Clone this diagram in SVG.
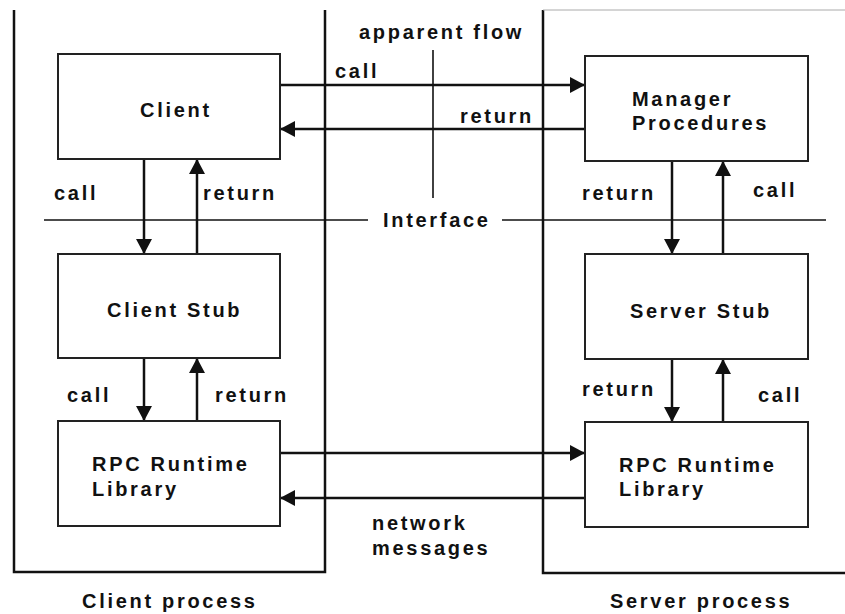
<svg xmlns="http://www.w3.org/2000/svg" width="845" height="614" viewBox="0 0 845 614">
<style>
text{font-family:"Liberation Sans",Arial,sans-serif;font-weight:bold;font-size:20px;letter-spacing:2.7px;fill:#111}
.box{fill:#fff;stroke:#222;stroke-width:2}
.frame{fill:none;stroke:#111;stroke-width:2.5}
.thin{fill:none;stroke:#111;stroke-width:1.6}
.arr{fill:none;stroke:#111;stroke-width:2.5;marker-end:url(#ah)}
</style>
<defs>
<marker id="ah" markerUnits="userSpaceOnUse" markerWidth="15" markerHeight="16" refX="15" refY="8" orient="auto">
<path d="M0,0 L15,8 L0,16 z" fill="#111"/>
</marker>
</defs>
<rect width="845" height="614" fill="#fff"/>
<g id="client-process">
<path class="frame" d="M14,10 V572 H325 V10"/>
<text x="82" y="608">Client process</text>
</g>
<g id="server-process">
<path class="frame" d="M543,10 V573 H845"/>
<line x1="543" y1="10" x2="845" y2="10" stroke="#aaa" stroke-width="1"/>
<text x="610" y="608">Server process</text>
</g>
<g id="interface">
<line class="thin" x1="44" y1="220" x2="368" y2="220"/>
<line class="thin" x1="502" y1="220" x2="826" y2="220"/>
<text x="383" y="227">Interface</text>
</g>
<g id="apparent-flow">
<text x="359" y="39">apparent flow</text>
<line class="thin" x1="433" y1="50" x2="433" y2="198"/>
</g>
<g id="connectors">
<line class="arr" x1="280" y1="85" x2="585" y2="85"/>
<line class="arr" x1="585" y1="129" x2="280" y2="129"/>
<line class="arr" x1="144" y1="159" x2="144" y2="254"/>
<line class="arr" x1="197" y1="254" x2="197" y2="159"/>
<line class="arr" x1="144" y1="358" x2="144" y2="421"/>
<line class="arr" x1="197" y1="421" x2="197" y2="358"/>
<line class="arr" x1="672" y1="161" x2="672" y2="254"/>
<line class="arr" x1="723" y1="254" x2="723" y2="161"/>
<line class="arr" x1="672" y1="359" x2="672" y2="422"/>
<line class="arr" x1="723" y1="422" x2="723" y2="359"/>
<line class="arr" x1="280" y1="453" x2="585" y2="453"/>
<line class="arr" x1="585" y1="498" x2="280" y2="498"/>
<text x="335" y="78">call</text>
<text x="460" y="123">return</text>
<text x="54" y="200">call</text>
<text x="203" y="200">return</text>
<text x="582" y="200">return</text>
<text x="753" y="197">call</text>
<text x="67" y="402">call</text>
<text x="215" y="402">return</text>
<text x="582" y="396">return</text>
<text x="758" y="402">call</text>
<text x="372" y="530">network</text>
<text x="372" y="555">messages</text>
</g>
<g id="client">
<rect class="box" x="58" y="54" width="222" height="105"/>
<text x="140" y="117">Client</text>
</g>
<g id="manager-procedures">
<rect class="box" x="585" y="56" width="223" height="105"/>
<text x="632" y="106">Manager</text>
<text x="632" y="130">Procedures</text>
</g>
<g id="client-stub">
<rect class="box" x="58" y="254" width="222" height="104"/>
<text x="107" y="317">Client Stub</text>
</g>
<g id="server-stub">
<rect class="box" x="585" y="254" width="223" height="105"/>
<text x="630" y="318">Server Stub</text>
</g>
<g id="client-rpc">
<rect class="box" x="58" y="421" width="222" height="105"/>
<text x="92" y="471">RPC Runtime</text>
<text x="92" y="496">Library</text>
</g>
<g id="server-rpc">
<rect class="box" x="585" y="422" width="223" height="105"/>
<text x="619" y="472">RPC Runtime</text>
<text x="619" y="496">Library</text>
</g>
</svg>
